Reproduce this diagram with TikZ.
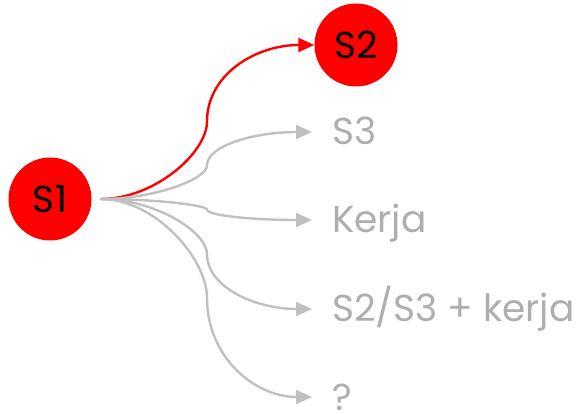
\documentclass[tikz,border=0pt]{standalone}
\usepackage{fontspec}
\setmainfont{Poppins}
\usetikzlibrary{arrows.meta}
\definecolor{edgegray}{HTML}{C0C0C0}
\definecolor{txtgray}{HTML}{AEAEAE}
\tikzset{
  state/.style={circle, fill=red, text=black, minimum size=83pt, inner sep=0pt, font=\fontsize{37.5}{40}\selectfont},
  lbl/.style={anchor=west, inner xsep=20pt, inner ysep=0pt, text height=26pt, text depth=0pt, text=txtgray, font=\fontsize{37.5}{40}\selectfont},
  edge/.style={line width=2.4pt, edgegray, shorten <=9pt, -{Triangle[length=16pt,width=14pt]}},
  redge/.style={edge, draw=red, -{Triangle[length=16pt,width=14pt,fill=red]}}
}
\begin{document}
\begin{tikzpicture}[x=1pt,y=-1pt]
\useasboundingbox (0,0) rectangle (579,414);
\node[state] (S1) at (50,199) {S1};
\node[state] (S2) at (356,45) {S2};
\node[lbl] (S3) at (312,132) {S3};
\node[lbl] (K) at (312,220) {Kerja};
\node[lbl] (SK) at (312,309) {S2/S3 + kerja};
\node[lbl] (Q) at (312,397) {?};
\draw[redge] (S1.east) .. controls (155,199) and (207,152.5) .. (207,121.5) .. controls (207,75) and (255,45) .. (S2.west);
\draw[edge] (S1.east) .. controls (155,199) and (207,178.9) .. (207,165.5) .. controls (207,145.4) and (255,132) .. (S3.west);
\draw[edge] (S1.east) .. controls (155,199) and (207,205.3) .. (207,209.5) .. controls (207,215.8) and (255,220) .. (K.west);
\draw[edge] (S1.east) .. controls (155,199) and (207,232) .. (207,254) .. controls (207,287) and (255,309) .. (SK.west);
\draw[edge] (S1.east) .. controls (155,199) and (207,258.4) .. (207,298) .. controls (207,357.4) and (255,397) .. (Q.west);
\end{tikzpicture}
\end{document}
